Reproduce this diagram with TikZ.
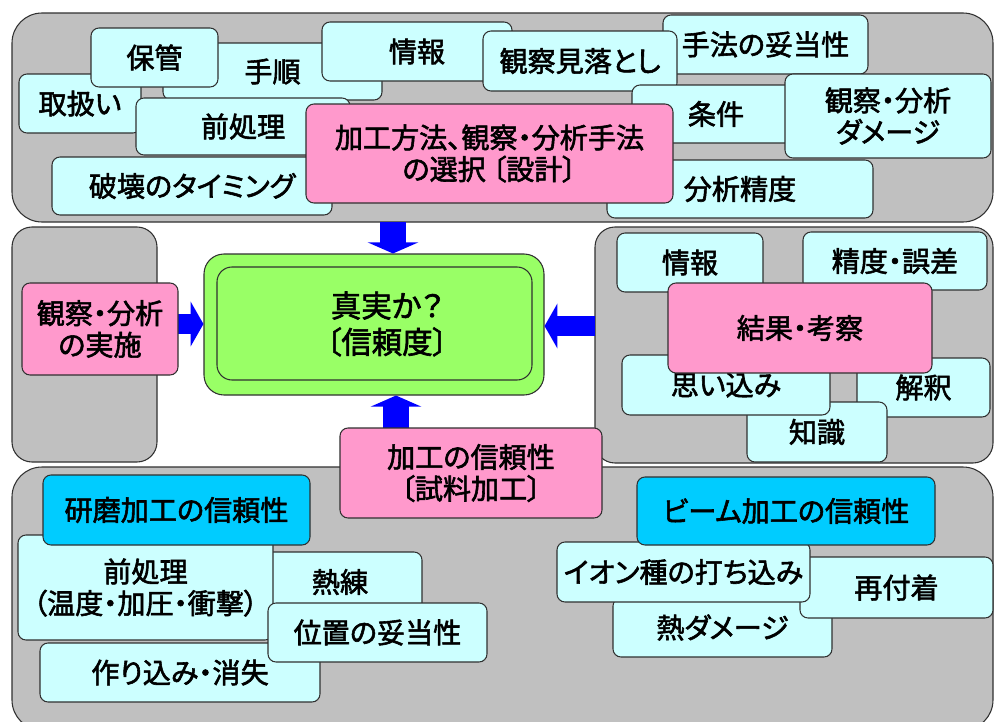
\documentclass[tikz,border=0pt]{standalone}
\usepackage{fontspec}
\setmainfont{Noto Sans CJK JP}[RawFeature=+palt, FakeBold=2]
\usetikzlibrary{arrows.meta}
\definecolor{panelgray}{HTML}{C0C0C0}
\definecolor{lightcyan}{HTML}{CCFFFF}
\definecolor{pinkbox}{HTML}{FF99CC}
\definecolor{cyanbox}{HTML}{00CCFF}
\definecolor{greenbox}{HTML}{99FF66}
\definecolor{arrowblue}{HTML}{0000FF}
\definecolor{edgecol}{HTML}{303030}
\newcommand\lblfont{\fontsize{24}{27}\selectfont}
\newcommand\ctrfont{\fontsize{26}{31}\selectfont}
% style, name, x1, y1, x2, y2, text  (pixel units)
\newcommand\mkbox[7]{\node[#1, minimum width={(#5-#3)*0.03cm}, minimum height={(#6-#4)*0.03cm}] (#2) at ({(#3+#5)/2},{(#4+#6)/2}) {#7};}
\tikzset{
  panel/.style={draw=edgecol, line width=0.9pt, fill=panelgray, rounded corners=0.9cm, inner sep=0pt},
  sidepanel/.style={panel, rounded corners=0.6cm},
  lbox/.style={draw=edgecol, line width=0.9pt, fill=lightcyan, rounded corners=0.24cm, inner sep=0pt, align=center, font=\lblfont},
  pbox/.style={lbox, fill=pinkbox},
  cbox/.style={lbox, fill=cyanbox},
  gouter/.style={draw=edgecol, line width=0.9pt, fill=greenbox, rounded corners=0.6cm, inner sep=0pt},
  ginner/.style={gouter, rounded corners=0.45cm},
  vbarrow/.style={draw=arrowblue, line width=22pt, -{Triangle[width=43pt,length=9.5pt]}},
  hbarrow/.style={draw=arrowblue, line width=17pt, -{Triangle[width=38pt,length=11pt]}},
}
\begin{document}
\begin{tikzpicture}[x=0.03cm, y=-0.03cm]
\useasboundingbox (0,0) rectangle (995,722);
\fill[white] (0,0) rectangle (995,722);

% panels
\mkbox{panel}{toppanel}{12}{13}{993}{222}{}
\mkbox{sidepanel}{leftpanel}{12}{227}{157}{462}{}
\mkbox{sidepanel}{rightpanel}{595}{227}{993}{463}{}
\mkbox{panel}{bottompanel}{12}{467}{993}{730}{}

% top panel boxes
\mkbox{lbox}{tejun}{163}{43}{382}{100}{手順}
\mkbox{lbox}{toriatsukai}{19}{74}{141}{133}{取扱い}
\mkbox{lbox}{hokan}{91}{28}{218}{87}{保管}
\mkbox{lbox}{maeshori}{136}{98}{350}{155}{前処理}
\mkbox{lbox}{hakai}{52}{157}{332}{215}{破壊のタイミング}
\mkbox{lbox}{jouhou}{322}{22}{512}{81}{情報}
\mkbox{lbox}{shuhou}{663}{15}{868}{74}{手法の妥当性}
\mkbox{lbox}{miotoshi}{483}{31}{677}{91}{観察見落とし}
\mkbox{lbox}{jouken}{632}{85}{800}{143}{条件}
\mkbox{lbox}{damage}{785}{74}{991}{158}{観察・分析\\ダメージ}
\mkbox{lbox}{seido}{607}{160}{873}{218}{分析精度}

% right panel boxes
\mkbox{lbox}{rjouhou}{617}{233}{763}{292}{情報}
\mkbox{lbox}{gosa}{803}{232}{987}{290}{精度・誤差}
\mkbox{lbox}{kaishaku}{857}{358}{990}{417}{解釈}
\mkbox{lbox}{chishiki}{747}{402}{887}{462}{知識}
\mkbox{lbox}{omoikomi}{622}{355}{830}{415}{思い込み}

% bottom panel boxes
\mkbox{lbox}{jukuren}{258}{552}{422}{612}{熱練}
\mkbox{lbox}{bmaeshori}{18}{535}{273}{640}{前処理\\（温度・加圧・衝撃）}
\mkbox{cbox}{kenma}{43}{475}{310}{545}{研磨加工の信頼性}
\mkbox{lbox}{tsukurikomi}{40}{643}{320}{702}{作り込み・消失}
\mkbox{lbox}{ichi}{268}{603}{487}{662}{位置の妥当性}
\mkbox{lbox}{netsu}{613}{598}{832}{657}{熱ダメージ}
\mkbox{lbox}{saifuchaku}{800}{557}{993}{618}{再付着}
\mkbox{lbox}{ion}{557}{542}{810}{602}{イオン種の打ち込み}
\mkbox{cbox}{beam}{637}{477}{935}{545}{ビーム加工の信頼性}

% centre
\mkbox{gouter}{green}{204}{254}{544}{395}{}
\mkbox{ginner}{greenin}{217}{267}{532}{380}{}
\node[font=\ctrfont, align=center, inner sep=0pt] (truth) at (387,324) {真実か？\\〔信頼度〕};

% arrows
\coordinate (ta) at (393,222);
\coordinate (ba) at (396,428);
\coordinate (la) at (178,324);
\coordinate (ra) at (595,326);
\draw[vbarrow] (ta) -- (ta |- green.north);
\draw[vbarrow] (ba) -- (ba |- green.south);
\draw[hbarrow] (la) -- (la -| green.west);
\draw[hbarrow] (ra) -- (ra -| green.east);

% pink boxes
\mkbox{pbox}{design}{306}{104}{673}{203}{加工方法、観察・分析手法\\の選択 〔設計〕}
\mkbox{pbox}{jisshi}{22}{283}{178}{375}{観察・分析\\の実施}
\mkbox{pbox}{kousatsu}{668}{283}{932}{373}{結果・考察}
\mkbox{pbox}{kakou}{340}{428}{602}{518}{加工の信頼性\\〔試料加工〕}
\end{tikzpicture}
\end{document}
